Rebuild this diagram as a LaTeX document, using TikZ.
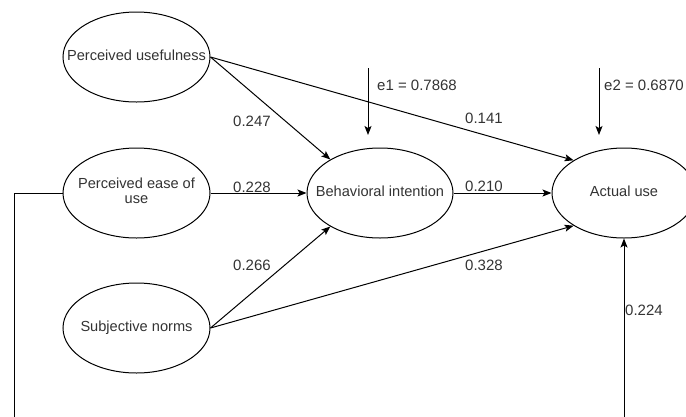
\documentclass[tikz,border=0pt]{standalone}
\usepackage{fontspec}
\setmainfont{Liberation Sans}
\usetikzlibrary{shapes.geometric,arrows.meta}
\definecolor{txt}{RGB}{51,51,51}
\newcommand{\zw}[1]{\makebox[0pt][c]{\begin{tabular}{@{}c@{}}#1\end{tabular}}}
\begin{document}
\begin{tikzpicture}[x=1pt,y=-1pt,
  latent/.style={ellipse,draw=black,line width=1pt,minimum width=147pt,minimum height=90pt,inner sep=0pt,font=\fontsize{14.6}{15.5}\selectfont,text=txt},
  arr/.style={line width=1pt,-{Stealth[length=9pt,width=7pt,inset=2pt]}},
  lbl/.style={font=\fontsize{15}{17}\selectfont,text=txt,inner sep=0pt}]
\useasboundingbox (0,0) rectangle (686,416);
\clip (0,0) rectangle (686,416);
\node[latent] (PU) at (136.5,57) {\zw{Perceived usefulness}};
\node[latent] (PEOU) at (136.5,193) {\raisebox{-3pt}{\zw{Perceived ease of\\use}}};
\node[latent] (SN) at (136.5,328) {\zw{Subjective norms}};
\node[latent,minimum width=146pt] (BI) at (380,193) {\zw{Behavioral intention}};
\node[latent,minimum width=144pt] (AU) at (624,193) {\zw{Actual use}};
\coordinate (e1s) at (368,68);
\coordinate (e1t) at (368,135);
\coordinate (e2s) at (599,68);
\coordinate (e2t) at (599,135);
\coordinate (f1) at (14,193);
\coordinate (f2) at (14,440);
\coordinate (f3) at (624,440);
\draw[arr] (PU.east) -- (BI.146);
\draw[arr] (PU.east) -- (AU.147);
\draw[arr] (PEOU.east) -- (BI.west);
\draw[arr] (SN.east) -- (BI.214);
\draw[arr] (SN.east) -- (AU.213);
\draw[arr] (BI.east) -- (AU.west);
\draw[arr] (e1s) -- (e1t);
\draw[arr] (e2s) -- (e2t);
\draw[arr] (PEOU.west) -- (f1) -- (f2) -- (f3) -- (AU.south);
\node[lbl] (l1) at (252,121) {0.247};
\node[lbl] (l2) at (252,187) {0.228};
\node[lbl] (l3) at (252,265) {0.266};
\node[lbl] (l4) at (484,118) {0.141};
\node[lbl] (l5) at (484,186) {0.210};
\node[lbl] (l6) at (484,265) {0.328};
\node[lbl,anchor=west] (le1) at (377,85) {e1 = 0.7868};
\node[lbl,anchor=west] (le2) at (604,85) {e2 = 0.6870};
\node[lbl,anchor=west] (l7) at (625,310) {0.224};
\end{tikzpicture}
\end{document}
